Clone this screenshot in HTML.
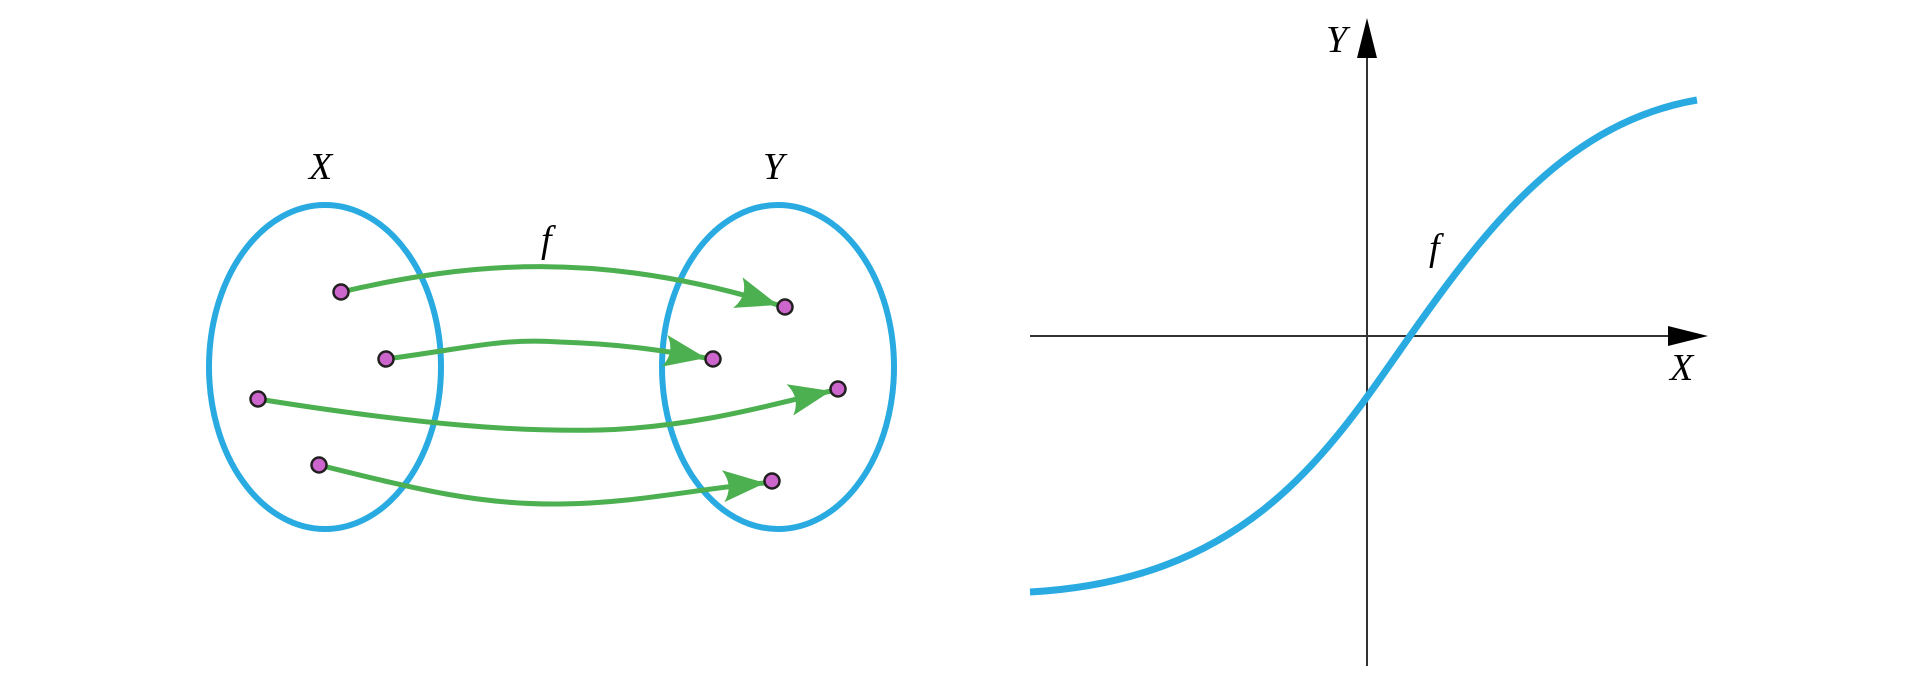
<!DOCTYPE html>
<html><head><meta charset="utf-8"><style>
html,body{margin:0;padding:0;background:#fff;}
svg{display:block;}
text{font-family:"Liberation Serif",serif;font-style:italic;fill:#000;}
</style></head><body>
<svg width="1920" height="679" viewBox="0 0 1920 679" xmlns="http://www.w3.org/2000/svg">
<defs>
<marker id="ga" markerUnits="userSpaceOnUse" markerWidth="60" markerHeight="50" refX="0" refY="0" viewBox="-50 -25 60 50" orient="auto">
<path d="M0,0 L-42,-16 Q-31,0 -42,16 Z" fill="#4caf50"/>
</marker>
</defs>
<ellipse cx="325" cy="367" rx="116" ry="162" fill="none" stroke="#29abe2" stroke-width="6"/>
<ellipse cx="778" cy="367" rx="116" ry="162" fill="none" stroke="#29abe2" stroke-width="6"/>
<g fill="none" stroke="#4caf50" stroke-width="5" marker-end="url(#ga)">
<path d="M341,292 C470,262 600,250 778,305"/>
<path d="M386,359 C470,348 500,338 560,342 C620,344 660,350 706,358"/>
<path d="M258,399 C420,425 520,432 600,430 C700,427 780,402 831,391"/>
<path d="M319,465 C420,490 480,505 560,504 C640,503 700,488 765,483"/>
</g>
<g fill="#cc66cc" stroke="#231f20" stroke-width="2.5">
<circle cx="341" cy="292" r="7.5"/><circle cx="386" cy="359" r="7.5"/>
<circle cx="258" cy="399" r="7.5"/><circle cx="319" cy="465" r="7.5"/>
<circle cx="785" cy="307" r="7.5"/><circle cx="713" cy="359" r="7.5"/>
<circle cx="838" cy="389" r="7.5"/><circle cx="772" cy="481" r="7.5"/>
</g>
<text x="309" y="179" font-size="38">X</text>
<text x="763" y="179" font-size="38">Y</text>
<text x="541" y="252" font-size="38">f</text>
<line x1="1367" y1="50" x2="1367" y2="666" stroke="#333" stroke-width="2"/>
<path d="M1367,18 L1357,58 L1377,58 Z" fill="#000"/>
<line x1="1030" y1="336" x2="1672" y2="336" stroke="#333" stroke-width="2"/>
<path d="M1708,336 L1668,326 L1668,346 Z" fill="#000"/>
<path d="M1030,592 C1250,580 1330,450 1410,336 C1490,222 1570,122 1697,100" fill="none" stroke="#29abe2" stroke-width="7"/>
<text x="1326" y="52" font-size="38">Y</text>
<text x="1670" y="380" font-size="38">X</text>
<text x="1429" y="260" font-size="38">f</text>
</svg>
</body></html>
